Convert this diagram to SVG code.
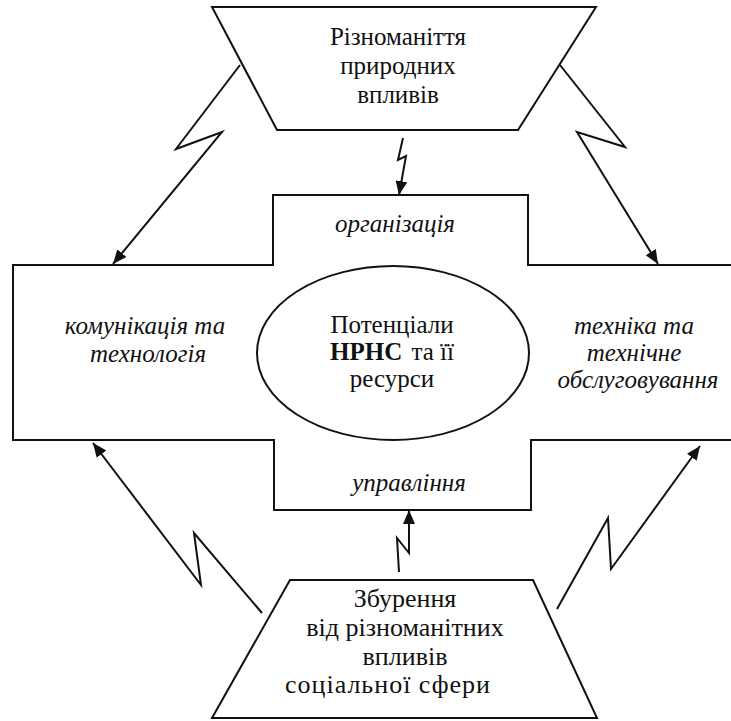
<svg xmlns="http://www.w3.org/2000/svg" width="731" height="721" viewBox="0 0 731 721">
<defs>
<marker id="ah" markerUnits="userSpaceOnUse" markerWidth="16" markerHeight="12" refX="14" refY="6" orient="auto">
<path d="M0,0 L14,6 L0,12 Z" fill="#111"/>
</marker>
<style>
.ln{fill:none;stroke:#111;stroke-width:2;stroke-linejoin:miter}
.sh{fill:#fff;stroke:#111;stroke-width:2}
.t{font-family:"Liberation Serif","Times New Roman",serif;font-size:25px;fill:#111;text-anchor:middle}
.i{font-style:italic}
.b{font-weight:bold}
.s{font-size:26px}
</style>
</defs>
<rect width="731" height="721" fill="#fff"/>
<g id="cross">
<path class="sh" d="M731,265 L528,265 L528,195 L273,195 L273,265 L13,265 L13,440 L274,440 L274,510 L531,510 L531,440 L731,440"/>
<text class="t i" x="395" y="232">організація</text>
<text class="t i" x="409" y="491">управління</text>
<text class="t i" x="145" y="334">комунікація та</text>
<text class="t i" x="148" y="362">технологія</text>
<text class="t i" x="634" y="334">техніка та</text>
<text class="t i" x="634" y="361">технічне</text>
<text class="t i" x="638" y="388">обслуговування</text>
</g>
<g id="center">
<ellipse class="sh" cx="393" cy="353" rx="136" ry="87"/>
<text class="t" x="392" y="333">Потенціали</text>
<text class="t" x="392" y="360"><tspan class="b">НРНС</tspan> <tspan dx="3">та її</tspan></text>
<text class="t" x="392" y="387">ресурси</text>
</g>
<g id="top">
<path class="sh" d="M212,7 L596,7 L518,130 L277,130 Z"/>
<text class="t" x="398" y="45">Різноманіття</text>
<text class="t" x="398" y="74">природних</text>
<text class="t" x="398" y="103">впливів</text>
</g>
<g id="bottom">
<path class="sh" d="M290,580 L533,580 L597,718 L212,718 Z"/>
<text class="t s" x="405" y="607">Збурення</text>
<text class="t s" x="405" y="636">від різноманітних</text>
<text class="t s" x="405" y="665">впливів</text>
<text class="t s" x="388" y="693" letter-spacing="1">соціальної сфери</text>
</g>
<g id="connectors">
<path class="ln" marker-end="url(#ah)" d="M240,65 L176,149 L222,132 L113,264"/>
<path class="ln" marker-end="url(#ah)" d="M560,65 L625,147 L577,132 L658,264"/>
<path class="ln" marker-end="url(#ah)" d="M262,613 L194,533 L201,585 L93,443"/>
<path class="ln" marker-end="url(#ah)" d="M557,609 L608,518 L611,569 L700,446"/>
<path class="ln" marker-end="url(#ah)" d="M403,138 L398,160 L406,156 L399,195"/>
<path class="ln" marker-end="url(#ah)" d="M399,572 L397,538 L409,553 L409,510"/>
</g>
</svg>
